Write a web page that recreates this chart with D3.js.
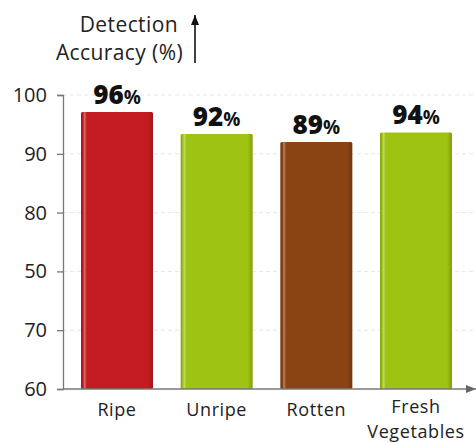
<!DOCTYPE html>
<html><head><meta charset="utf-8">
<script src="https://cdn.jsdelivr.net/npm/d3@7"></script>
<style>
html,body{margin:0;padding:0;background:#fff;}
svg{display:block;font-family:"Open Sans", Lato, sans-serif;}
</style></head>
<body>
<svg id="chart" width="476" height="443"></svg>
<script>
// ---- data ----
const categories = ["Ripe", "Unripe", "Rotten", "Fresh\nVegetables"];
const barValues = [97.7, 94.7, 93.6, 94.9];          // bar heights in axis units (as drawn)
const valueLabels = ["96", "92", "89", "94"];         // printed labels
const barColors = ["#c41b22", "#9ec313", "#8a4313", "#9ec313"];
const tickValues = [60, 68, 76, 84, 92, 100];
const tickLabels = ["60", "70", "50", "80", "90", "100"];
const titleLines = ["Detection", "Accuracy (%)"];

const svg = d3.select("#chart");
const x0 = 63, x1 = 470, yBottom = 389, yTop = 95;

const x = d3.scaleBand().domain(categories).range([x0, x1])
  .paddingInner(0.2776).paddingOuter(0.1806);
const y = d3.scaleLinear().domain([60, 100]).range([yBottom, yTop]);

// gradients per colour
const defs = svg.append("defs");
barColors.forEach((c, i) => {
  const g = defs.append("linearGradient").attr("id", "g" + i)
    .attr("x1", "0").attr("x2", "1").attr("y1", "0").attr("y2", "0");
  const light = d3.interpolateRgb(c, "#ffffff")(0.35);
  const dark = d3.color(c).darker(0.6).formatHex();
  g.append("stop").attr("offset", "0%").attr("stop-color", dark);
  g.append("stop").attr("offset", "3%").attr("stop-color", c);
  g.append("stop").attr("offset", "5%").attr("stop-color", light);
  g.append("stop").attr("offset", "8%").attr("stop-color", c);
  g.append("stop").attr("offset", "93%").attr("stop-color", c);
  g.append("stop").attr("offset", "100%").attr("stop-color", dark);
});

// gridlines
svg.append("g").selectAll("line").data(tickValues.slice(1)).join("line")
  .attr("x1", x0).attr("x2", 476)
  .attr("y1", d => y(d)).attr("y2", d => y(d))
  .attr("stroke", "#e6e6e6").attr("stroke-width", 1)
  .attr("stroke-dasharray", "4,3");

// bars
svg.append("g").selectAll("rect").data(categories).join("rect")
  .attr("x", d => x(d))
  .attr("width", x.bandwidth())
  .attr("y", (d, i) => y(barValues[i]))
  .attr("height", (d, i) => yBottom - y(barValues[i]))
  .attr("fill", (d, i) => "url(#g" + i + ")")
  .attr("rx", 1.5);

// value labels
const vl = svg.append("g").selectAll("text").data(categories).join("text")
  .attr("x", d => x(d) + x.bandwidth() / 2)
  .attr("y", (d, i) => y(barValues[i]) - 8)
  .attr("text-anchor", "middle")
  .attr("fill", "#111");
vl.append("tspan").attr("font-size", 26).attr("font-weight", 800)
  .text((d, i) => valueLabels[i]);
vl.append("tspan").attr("font-size", 19).attr("font-weight", 700).text("%");

// y axis
const yAxis = d3.axisLeft(y).tickValues(tickValues)
  .tickFormat((d, i) => tickLabels[i]).tickSize(6).tickPadding(10);
const ya = svg.append("g").attr("transform", `translate(${x0},0)`).call(yAxis);
ya.select(".domain").attr("stroke", "#777").attr("stroke-width", 1.3);
ya.selectAll(".tick line").attr("stroke", "#777").attr("stroke-width", 1.3);
ya.selectAll(".tick text").attr("font-size", 20).attr("fill", "#222")
  .attr("font-family", "'Open Sans', sans-serif");

// x axis line with arrow
defs.append("marker").attr("id", "arr").attr("viewBox", "0 0 10 10")
  .attr("refX", 10).attr("refY", 5).attr("markerWidth", 10).attr("markerHeight", 10)
  .attr("markerUnits", "userSpaceOnUse").attr("orient", "auto")
  .append("path").attr("d", "M0,1 L10,5 L0,9 Z").attr("fill", "#666");
svg.append("line").attr("x1", x0).attr("x2", 476).attr("y1", yBottom).attr("y2", yBottom)
  .attr("stroke", "#777").attr("stroke-width", 1.5).attr("marker-end", "url(#arr)");

// x category labels
const xl = svg.append("g").selectAll("text").data(categories).join("text")
  .attr("x", d => x(d) + x.bandwidth() / 2)
  .attr("y", d => d.includes("\n") ? 413 : 416)
  .attr("text-anchor", "middle").attr("font-size", 18).attr("fill", "#222")
  .attr("letter-spacing", 0.6);
xl.selectAll("tspan").data(d => d.split("\n")).join("tspan")
  .attr("x", function() { return this.parentNode.getAttribute("x"); })
  .attr("dy", (d, i) => i === 0 ? 0 : 25)
  .text(d => d);

// y title with arrow
const title = svg.append("g");
title.selectAll("text").data(titleLines).join("text")
  .attr("x", (d, i) => i === 0 ? 178 : 183)
  .attr("y", (d, i) => 32 + i * 28)
  .attr("text-anchor", "end").attr("font-size", 21).attr("fill", "#222")
  .attr("letter-spacing", 0.4)
  .text(d => d);
defs.append("marker").attr("id", "arrUp").attr("viewBox", "0 0 10 10")
  .attr("refX", 10).attr("refY", 5).attr("markerWidth", 10).attr("markerHeight", 10)
  .attr("markerUnits", "userSpaceOnUse").attr("orient", "auto")
  .append("path").attr("d", "M0,1 L10,5 L0,9 Z").attr("fill", "#111");
svg.append("line").attr("x1", 195).attr("x2", 195).attr("y1", 63).attr("y2", 15)
  .attr("stroke", "#111").attr("stroke-width", 1.6).attr("marker-end", "url(#arrUp)");
</script>
</body></html>
